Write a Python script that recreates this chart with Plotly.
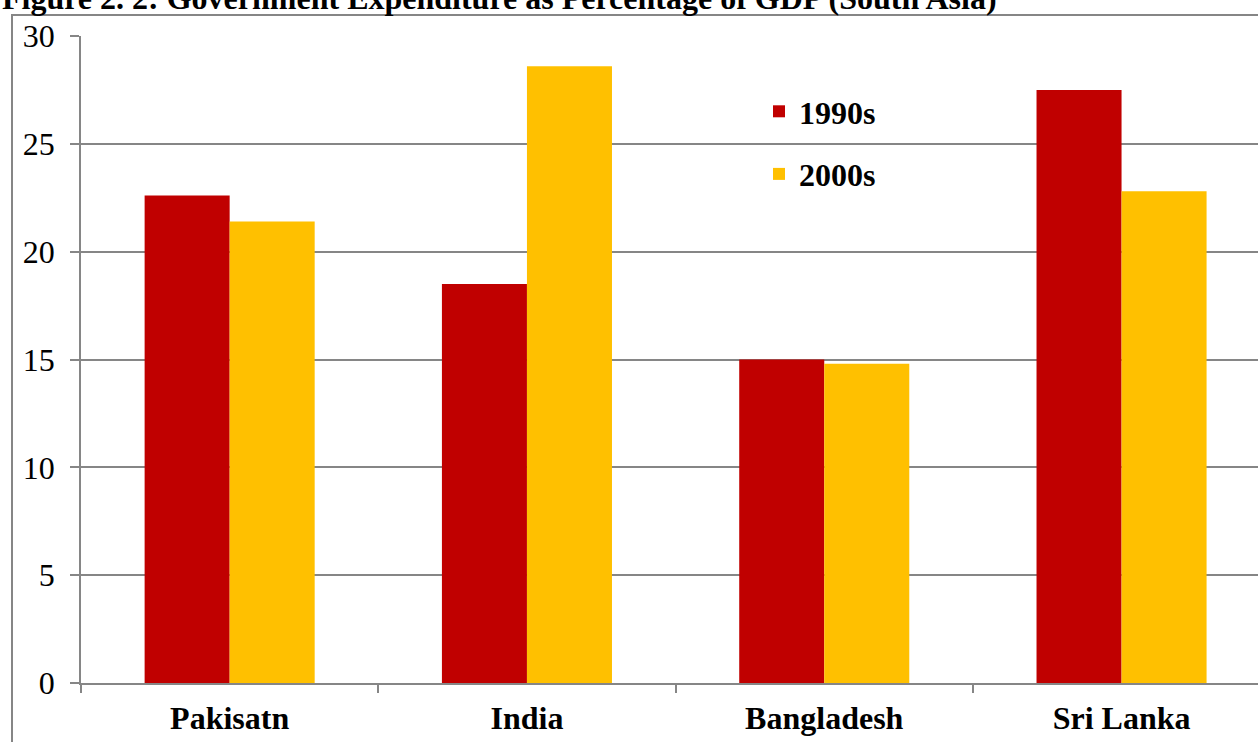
import plotly.graph_objects as go

# Government expenditure as a share of GDP, decade averages
countries = ["Pakisatn", "India", "Bangladesh", "Sri Lanka"]
exp_1990s = [22.6, 18.5, 15.0, 27.5]
exp_2000s = [21.4, 28.6, 14.8, 22.8]
y_ticks = [0, 5, 10, 15, 20, 25, 30]

RED = "#C00000"
GOLD = "#FFC000"
GRID = "#868686"
SERIF = "Liberation Serif"

W, H = 1258, 742
ML, MR, MT, MB = 81, 0, 36, 59
plot_w = W - ML - MR
plot_h = H - MT - MB
cat_px = 297.3  # width of one category band in pixels

fig = go.Figure()
fig.add_trace(go.Bar(x=countries, y=exp_1990s, name="1990s", marker_color=RED,
                     marker_line_width=0, legendgroup="a"))
fig.add_trace(go.Bar(x=countries, y=exp_2000s, name="2000s", marker_color=GOLD,
                     marker_line_width=0, legendgroup="b"))

def px_x(px):
    return (px - ML) / plot_w

def px_y(py):
    return (H - MB - py) / plot_h

fig.update_layout(
    width=W, height=H,
    margin=dict(l=ML, r=MR, t=MT, b=MB, pad=0),
    paper_bgcolor="white", plot_bgcolor="white",
    barmode="group", bargap=0.428, bargroupgap=0,
    font=dict(family=SERIF, size=32, color="black"),
    showlegend=True,
    legend=dict(x=px_x(759), y=px_y(84), xanchor="left", yanchor="top",
                bgcolor="rgba(0,0,0,0)", borderwidth=0,
                font=dict(family=SERIF, size=32, color="black", weight="bold"),
                traceorder="grouped", tracegroupgap=18, itemwidth=30),
    xaxis=dict(
        type="category",
        range=[-0.5, -0.5 + plot_w / cat_px],
        showgrid=False, showline=True, linecolor=GRID, linewidth=1.6,
        ticks="outside", tickson="boundaries", ticklen=8, tickcolor=GRID, tickwidth=1.6,
        tickfont=dict(family=SERIF, size=32, color="black", weight="bold"),
        ticklabelstandoff=6,
        zeroline=False,
    ),
    yaxis=dict(
        range=[0, 30], tickvals=y_ticks,
        showgrid=True, gridcolor=GRID, gridwidth=1.6,
        showline=True, linecolor=GRID, linewidth=1.6,
        ticks="outside", ticklen=9, tickcolor=GRID, tickwidth=1.6,
        tickfont=dict(family=SERIF, size=32, color="black"),
        ticklabelstandoff=9,
        zeroline=False,
    ),
)

# chart frame
fig.add_shape(type="rect", xref="paper", yref="paper",
              x0=px_x(12), y0=px_y(800), x1=px_x(1300), y1=px_y(15),
              line=dict(color=GRID, width=2), fillcolor="rgba(0,0,0,0)", layer="below")

# figure caption above the frame
fig.add_annotation(
    text="Figure 2. 2: Government Expenditure as Percentage of GDP (South Asia)",
    xref="paper", yref="paper", x=px_x(0), y=px_y(-2),
    xanchor="left", yanchor="middle", showarrow=False,
    font=dict(family=SERIF, size=32, color="black", weight="bold"),
)

fig.write_html("out.html")
